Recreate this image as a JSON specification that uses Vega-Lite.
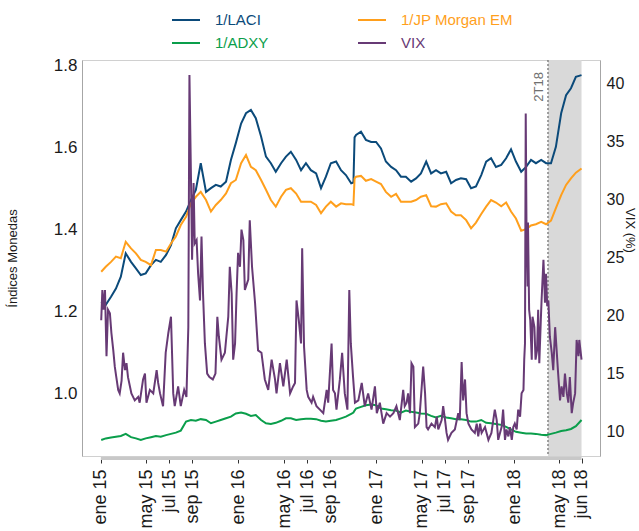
{
"$schema": "https://vega.github.io/schema/vega-lite/v6.json",
"width": 518, "height": 396,
"autosize": {"type": "none"},
"padding": {"left": 82, "top": 60, "right": 39, "bottom": 75},
"config": {
  "font": "Liberation Sans",
  "view": {"stroke": "#d0d0d0", "strokeWidth": 1},
  "axis": {"labelFont": "Liberation Sans", "titleFont": "Liberation Sans", "labelColor": "#1a1a1a", "titleColor": "#1a1a1a", "grid": false, "titleFontWeight": "normal"},
  "axisX": {"labelOverlap": false, "labelAngle": 270, "labelFontSize": 18, "labelPadding": 6, "domain": false, "ticks": true, "tickColor": "#333333", "tickSize": 5, "offset": 2, "title": null, "labelBound": false, "labelSeparation": 0},
  "axisTemporal": {"labelOverlap": false},
  "legend": {"labelFont": "Liberation Sans"}
},
"datasets": {
"fx": [
{"d":"2015-01-02","1/LACI":1.224,"1/JP Morgan EM":1.297,"1/ADXY":0.886},
{"d":"2015-01-14","1/LACI":1.216,"1/JP Morgan EM":1.309,"1/ADXY":0.890},
{"d":"2015-01-28","1/LACI":1.236,"1/JP Morgan EM":1.321,"1/ADXY":0.892},
{"d":"2015-02-10","1/LACI":1.256,"1/JP Morgan EM":1.334,"1/ADXY":0.894},
{"d":"2015-02-23","1/LACI":1.285,"1/JP Morgan EM":1.330,"1/ADXY":0.896},
{"d":"2015-03-08","1/LACI":1.342,"1/JP Morgan EM":1.370,"1/ADXY":0.901},
{"d":"2015-03-22","1/LACI":1.321,"1/JP Morgan EM":1.354,"1/ADXY":0.893},
{"d":"2015-04-04","1/LACI":1.305,"1/JP Morgan EM":1.342,"1/ADXY":0.890},
{"d":"2015-04-17","1/LACI":1.289,"1/JP Morgan EM":1.326,"1/ADXY":0.886},
{"d":"2015-04-30","1/LACI":1.293,"1/JP Morgan EM":1.321,"1/ADXY":0.890},
{"d":"2015-05-14","1/LACI":1.313,"1/JP Morgan EM":1.313,"1/ADXY":0.893},
{"d":"2015-05-27","1/LACI":1.326,"1/JP Morgan EM":1.350,"1/ADXY":0.896},
{"d":"2015-06-09","1/LACI":1.321,"1/JP Morgan EM":1.350,"1/ADXY":0.894},
{"d":"2015-06-23","1/LACI":1.338,"1/JP Morgan EM":1.346,"1/ADXY":0.898},
{"d":"2015-07-06","1/LACI":1.362,"1/JP Morgan EM":1.366,"1/ADXY":0.901},
{"d":"2015-07-19","1/LACI":1.403,"1/JP Morgan EM":1.383,"1/ADXY":0.904},
{"d":"2015-08-01","1/LACI":1.423,"1/JP Morgan EM":1.411,"1/ADXY":0.909},
{"d":"2015-08-15","1/LACI":1.444,"1/JP Morgan EM":1.431,"1/ADXY":0.931},
{"d":"2015-08-28","1/LACI":1.472,"1/JP Morgan EM":1.464,"1/ADXY":0.935},
{"d":"2015-09-10","1/LACI":1.497,"1/JP Morgan EM":1.480,"1/ADXY":0.933},
{"d":"2015-09-23","1/LACI":1.562,"1/JP Morgan EM":1.492,"1/ADXY":0.937},
{"d":"2015-10-07","1/LACI":1.492,"1/JP Morgan EM":1.472,"1/ADXY":0.935},
{"d":"2015-10-20","1/LACI":1.501,"1/JP Morgan EM":1.444,"1/ADXY":0.927},
{"d":"2015-11-02","1/LACI":1.509,"1/JP Morgan EM":1.460,"1/ADXY":0.931},
{"d":"2015-11-15","1/LACI":1.505,"1/JP Morgan EM":1.472,"1/ADXY":0.935},
{"d":"2015-11-29","1/LACI":1.517,"1/JP Morgan EM":1.488,"1/ADXY":0.939},
{"d":"2015-12-12","1/LACI":1.570,"1/JP Morgan EM":1.513,"1/ADXY":0.943},
{"d":"2015-12-25","1/LACI":1.611,"1/JP Morgan EM":1.521,"1/ADXY":0.951},
{"d":"2016-01-08","1/LACI":1.659,"1/JP Morgan EM":1.562,"1/ADXY":0.953},
{"d":"2016-01-21","1/LACI":1.684,"1/JP Morgan EM":1.582,"1/ADXY":0.950},
{"d":"2016-02-03","1/LACI":1.692,"1/JP Morgan EM":1.553,"1/ADXY":0.945},
{"d":"2016-02-16","1/LACI":1.672,"1/JP Morgan EM":1.545,"1/ADXY":0.947},
{"d":"2016-03-01","1/LACI":1.627,"1/JP Morgan EM":1.521,"1/ADXY":0.935},
{"d":"2016-03-14","1/LACI":1.578,"1/JP Morgan EM":1.497,"1/ADXY":0.927},
{"d":"2016-03-27","1/LACI":1.562,"1/JP Morgan EM":1.472,"1/ADXY":0.925},
{"d":"2016-04-09","1/LACI":1.541,"1/JP Morgan EM":1.456,"1/ADXY":0.928},
{"d":"2016-04-23","1/LACI":1.562,"1/JP Morgan EM":1.480,"1/ADXY":0.933},
{"d":"2016-05-06","1/LACI":1.578,"1/JP Morgan EM":1.497,"1/ADXY":0.939},
{"d":"2016-05-19","1/LACI":1.590,"1/JP Morgan EM":1.501,"1/ADXY":0.939},
{"d":"2016-06-02","1/LACI":1.570,"1/JP Morgan EM":1.488,"1/ADXY":0.935},
{"d":"2016-06-15","1/LACI":1.545,"1/JP Morgan EM":1.468,"1/ADXY":0.937},
{"d":"2016-06-28","1/LACI":1.562,"1/JP Morgan EM":1.468,"1/ADXY":0.938},
{"d":"2016-07-11","1/LACI":1.545,"1/JP Morgan EM":1.468,"1/ADXY":0.938},
{"d":"2016-07-25","1/LACI":1.537,"1/JP Morgan EM":1.460,"1/ADXY":0.937},
{"d":"2016-08-07","1/LACI":1.501,"1/JP Morgan EM":1.440,"1/ADXY":0.933},
{"d":"2016-08-20","1/LACI":1.529,"1/JP Morgan EM":1.456,"1/ADXY":0.931},
{"d":"2016-09-02","1/LACI":1.562,"1/JP Morgan EM":1.468,"1/ADXY":0.933},
{"d":"2016-09-16","1/LACI":1.566,"1/JP Morgan EM":1.456,"1/ADXY":0.935},
{"d":"2016-09-29","1/LACI":1.545,"1/JP Morgan EM":1.464,"1/ADXY":0.939},
{"d":"2016-10-12","1/LACI":1.533,"1/JP Morgan EM":1.462,"1/ADXY":0.943},
{"d":"2016-10-26","1/LACI":1.513,"1/JP Morgan EM":1.462,"1/ADXY":0.950},
{"d":"2016-11-01","1/LACI":1.515,"1/JP Morgan EM":1.460,"1/ADXY":0.953},
{"d":"2016-11-04","1/LACI":1.625,"1/JP Morgan EM":1.525,"1/ADXY":0.958},
{"d":"2016-11-08","1/LACI":1.631,"1/JP Morgan EM":1.529,"1/ADXY":0.963},
{"d":"2016-11-21","1/LACI":1.639,"1/JP Morgan EM":1.531,"1/ADXY":0.967},
{"d":"2016-12-04","1/LACI":1.619,"1/JP Morgan EM":1.519,"1/ADXY":0.971},
{"d":"2016-12-18","1/LACI":1.614,"1/JP Morgan EM":1.523,"1/ADXY":0.973},
{"d":"2016-12-31","1/LACI":1.614,"1/JP Morgan EM":1.517,"1/ADXY":0.971},
{"d":"2017-01-13","1/LACI":1.598,"1/JP Morgan EM":1.511,"1/ADXY":0.963},
{"d":"2017-01-26","1/LACI":1.566,"1/JP Morgan EM":1.492,"1/ADXY":0.961},
{"d":"2017-02-09","1/LACI":1.553,"1/JP Morgan EM":1.480,"1/ADXY":0.959},
{"d":"2017-02-22","1/LACI":1.545,"1/JP Morgan EM":1.487,"1/ADXY":0.958},
{"d":"2017-03-07","1/LACI":1.529,"1/JP Morgan EM":1.468,"1/ADXY":0.953},
{"d":"2017-03-20","1/LACI":1.529,"1/JP Morgan EM":1.468,"1/ADXY":0.958},
{"d":"2017-04-03","1/LACI":1.517,"1/JP Morgan EM":1.468,"1/ADXY":0.955},
{"d":"2017-04-16","1/LACI":1.525,"1/JP Morgan EM":1.472,"1/ADXY":0.953},
{"d":"2017-04-29","1/LACI":1.537,"1/JP Morgan EM":1.480,"1/ADXY":0.951},
{"d":"2017-05-13","1/LACI":1.566,"1/JP Morgan EM":1.484,"1/ADXY":0.950},
{"d":"2017-05-26","1/LACI":1.537,"1/JP Morgan EM":1.457,"1/ADXY":0.945},
{"d":"2017-06-08","1/LACI":1.545,"1/JP Morgan EM":1.456,"1/ADXY":0.941},
{"d":"2017-06-21","1/LACI":1.537,"1/JP Morgan EM":1.462,"1/ADXY":0.945},
{"d":"2017-07-05","1/LACI":1.541,"1/JP Morgan EM":1.464,"1/ADXY":0.941},
{"d":"2017-07-18","1/LACI":1.513,"1/JP Morgan EM":1.444,"1/ADXY":0.939},
{"d":"2017-07-31","1/LACI":1.521,"1/JP Morgan EM":1.435,"1/ADXY":0.937},
{"d":"2017-08-13","1/LACI":1.525,"1/JP Morgan EM":1.435,"1/ADXY":0.937},
{"d":"2017-08-27","1/LACI":1.523,"1/JP Morgan EM":1.423,"1/ADXY":0.935},
{"d":"2017-09-09","1/LACI":1.501,"1/JP Morgan EM":1.403,"1/ADXY":0.931},
{"d":"2017-09-22","1/LACI":1.505,"1/JP Morgan EM":1.417,"1/ADXY":0.931},
{"d":"2017-10-06","1/LACI":1.533,"1/JP Morgan EM":1.438,"1/ADXY":0.935},
{"d":"2017-10-19","1/LACI":1.566,"1/JP Morgan EM":1.456,"1/ADXY":0.928},
{"d":"2017-11-01","1/LACI":1.574,"1/JP Morgan EM":1.472,"1/ADXY":0.927},
{"d":"2017-11-14","1/LACI":1.553,"1/JP Morgan EM":1.466,"1/ADXY":0.925},
{"d":"2017-11-28","1/LACI":1.558,"1/JP Morgan EM":1.457,"1/ADXY":0.923},
{"d":"2017-12-11","1/LACI":1.574,"1/JP Morgan EM":1.466,"1/ADXY":0.918},
{"d":"2017-12-24","1/LACI":1.596,"1/JP Morgan EM":1.444,"1/ADXY":0.912},
{"d":"2018-01-06","1/LACI":1.566,"1/JP Morgan EM":1.427,"1/ADXY":0.906},
{"d":"2018-01-20","1/LACI":1.541,"1/JP Morgan EM":1.397,"1/ADXY":0.904},
{"d":"2018-02-02","1/LACI":1.553,"1/JP Morgan EM":1.401,"1/ADXY":0.902},
{"d":"2018-02-15","1/LACI":1.570,"1/JP Morgan EM":1.410,"1/ADXY":0.902},
{"d":"2018-02-28","1/LACI":1.562,"1/JP Morgan EM":1.413,"1/ADXY":0.901},
{"d":"2018-03-14","1/LACI":1.570,"1/JP Morgan EM":1.419,"1/ADXY":0.899},
{"d":"2018-03-27","1/LACI":1.562,"1/JP Morgan EM":1.413,"1/ADXY":0.898},
{"d":"2018-04-09","1/LACI":1.562,"1/JP Morgan EM":1.422,"1/ADXY":0.901},
{"d":"2018-04-22","1/LACI":1.602,"1/JP Morgan EM":1.452,"1/ADXY":0.904},
{"d":"2018-05-06","1/LACI":1.684,"1/JP Morgan EM":1.484,"1/ADXY":0.908},
{"d":"2018-05-19","1/LACI":1.728,"1/JP Morgan EM":1.509,"1/ADXY":0.910},
{"d":"2018-06-01","1/LACI":1.745,"1/JP Morgan EM":1.525,"1/ADXY":0.913},
{"d":"2018-06-14","1/LACI":1.773,"1/JP Morgan EM":1.539,"1/ADXY":0.920},
{"d":"2018-06-29","1/LACI":1.777,"1/JP Morgan EM":1.549,"1/ADXY":0.935}
],
"vix": [
{"d":"2015-01-02","v":19.6},{"d":"2015-01-05","v":22.2},{"d":"2015-01-08","v":20.5},{"d":"2015-01-12","v":22.2},{"d":"2015-01-16","v":16.5},{"d":"2015-01-20","v":20.5},{"d":"2015-01-25","v":20.2},{"d":"2015-01-29","v":18.5},
{"d":"2015-02-03","v":17.0},{"d":"2015-02-07","v":15.6},{"d":"2015-02-11","v":14.7},{"d":"2015-02-16","v":13.6},{"d":"2015-02-20","v":13.3},{"d":"2015-02-25","v":14.4},
{"d":"2015-03-01","v":16.8},{"d":"2015-03-06","v":15.3},{"d":"2015-03-10","v":15.9},{"d":"2015-03-14","v":14.7},{"d":"2015-03-23","v":13.3},
{"d":"2015-04-01","v":12.7},{"d":"2015-04-10","v":13.0},{"d":"2015-04-14","v":12.5},{"d":"2015-04-23","v":14.5},{"d":"2015-04-28","v":15.0},
{"d":"2015-05-02","v":12.5},{"d":"2015-05-11","v":13.6},{"d":"2015-05-20","v":13.3},{"d":"2015-05-29","v":15.3},
{"d":"2015-06-02","v":14.2},{"d":"2015-06-07","v":13.3},{"d":"2015-06-15","v":12.2},{"d":"2015-06-22","v":16.8},{"d":"2015-06-29","v":18.5},
{"d":"2015-07-06","v":19.9},{"d":"2015-07-12","v":13.3},{"d":"2015-07-16","v":12.2},{"d":"2015-07-25","v":13.9},
{"d":"2015-08-01","v":12.2},{"d":"2015-08-10","v":13.6},{"d":"2015-08-16","v":13.0},{"d":"2015-08-21","v":19.0},{"d":"2015-08-24","v":40.7},{"d":"2015-08-28","v":32.0},{"d":"2015-08-31","v":24.8},
{"d":"2015-09-04","v":31.4},{"d":"2015-09-07","v":26.2},{"d":"2015-09-12","v":26.5},{"d":"2015-09-16","v":23.6},{"d":"2015-09-21","v":21.3},{"d":"2015-09-25","v":26.8},{"d":"2015-09-29","v":21.9},
{"d":"2015-10-04","v":17.6},{"d":"2015-10-10","v":15.0},{"d":"2015-10-16","v":14.7},{"d":"2015-10-25","v":14.5},
{"d":"2015-11-01","v":15.0},{"d":"2015-11-06","v":19.9},{"d":"2015-11-10","v":18.2},{"d":"2015-11-17","v":16.2},{"d":"2015-11-26","v":16.8},{"d":"2015-11-30","v":18.2},
{"d":"2015-12-05","v":19.9},{"d":"2015-12-09","v":24.2},{"d":"2015-12-14","v":21.9},{"d":"2015-12-18","v":16.2},{"d":"2015-12-23","v":17.6},{"d":"2015-12-27","v":21.9},{"d":"2015-12-31","v":25.4},
{"d":"2016-01-05","v":24.2},{"d":"2016-01-09","v":27.4},{"d":"2016-01-14","v":26.5},{"d":"2016-01-18","v":22.2},{"d":"2016-01-27","v":23.1},{"d":"2016-01-31","v":28.2},
{"d":"2016-02-06","v":24.2},{"d":"2016-02-14","v":21.1},{"d":"2016-02-22","v":17.0},
{"d":"2016-03-02","v":16.8},{"d":"2016-03-11","v":14.5},{"d":"2016-03-20","v":13.6},{"d":"2016-03-29","v":16.2},
{"d":"2016-04-07","v":14.5},{"d":"2016-04-11","v":13.3},{"d":"2016-04-20","v":15.9},{"d":"2016-04-29","v":13.9},
{"d":"2016-05-08","v":16.2},{"d":"2016-05-17","v":13.3},{"d":"2016-05-25","v":13.9},{"d":"2016-05-30","v":14.2},
{"d":"2016-06-03","v":21.3},{"d":"2016-06-09","v":19.6},{"d":"2016-06-15","v":17.6},{"d":"2016-06-18","v":25.8},{"d":"2016-06-23","v":17.3},{"d":"2016-06-30","v":13.6},
{"d":"2016-07-04","v":13.0},{"d":"2016-07-13","v":12.5},{"d":"2016-07-17","v":13.0},{"d":"2016-07-26","v":12.2},
{"d":"2016-08-04","v":11.9},{"d":"2016-08-13","v":11.6},{"d":"2016-08-22","v":13.6},{"d":"2016-08-26","v":12.5},
{"d":"2016-09-04","v":17.6},{"d":"2016-09-08","v":13.6},{"d":"2016-09-13","v":13.3},{"d":"2016-09-17","v":11.9},{"d":"2016-09-26","v":14.5},
{"d":"2016-10-02","v":16.8},{"d":"2016-10-09","v":13.3},{"d":"2016-10-16","v":11.9},{"d":"2016-10-21","v":22.2},{"d":"2016-10-25","v":17.6},{"d":"2016-10-31","v":14.7},
{"d":"2016-11-05","v":12.5},{"d":"2016-11-14","v":12.7},{"d":"2016-11-23","v":14.2},
{"d":"2016-12-01","v":12.2},{"d":"2016-12-10","v":13.3},{"d":"2016-12-19","v":11.9},{"d":"2016-12-28","v":13.9},
{"d":"2017-01-02","v":11.6},{"d":"2017-01-10","v":12.5},{"d":"2017-01-19","v":10.7},{"d":"2017-01-28","v":11.6},
{"d":"2017-02-06","v":11.3},{"d":"2017-02-15","v":11.6},{"d":"2017-02-23","v":12.2},
{"d":"2017-03-04","v":11.0},{"d":"2017-03-13","v":13.6},{"d":"2017-03-17","v":12.2},{"d":"2017-03-22","v":12.5},{"d":"2017-03-26","v":13.3},{"d":"2017-03-31","v":11.6},
{"d":"2017-04-04","v":15.9},{"d":"2017-04-09","v":15.6},{"d":"2017-04-13","v":10.4},{"d":"2017-04-22","v":10.7},{"d":"2017-04-26","v":11.6},
{"d":"2017-05-05","v":15.6},{"d":"2017-05-10","v":13.3},{"d":"2017-05-14","v":10.4},{"d":"2017-05-18","v":10.2},{"d":"2017-05-27","v":10.7},
{"d":"2017-06-05","v":10.4},{"d":"2017-06-10","v":11.3},{"d":"2017-06-14","v":10.2},{"d":"2017-06-23","v":11.0},{"d":"2017-06-27","v":12.2},
{"d":"2017-07-02","v":11.0},{"d":"2017-07-06","v":9.9},{"d":"2017-07-10","v":9.3},{"d":"2017-07-19","v":9.9},{"d":"2017-07-28","v":10.2},
{"d":"2017-08-06","v":11.6},{"d":"2017-08-10","v":11.0},{"d":"2017-08-15","v":16.0},{"d":"2017-08-19","v":12.7},{"d":"2017-08-24","v":14.5},{"d":"2017-08-28","v":11.6},
{"d":"2017-09-02","v":10.7},{"d":"2017-09-10","v":10.2},{"d":"2017-09-19","v":9.9},{"d":"2017-09-24","v":10.7},{"d":"2017-09-28","v":9.6},
{"d":"2017-10-03","v":10.7},{"d":"2017-10-07","v":9.9},{"d":"2017-10-16","v":10.4},{"d":"2017-10-25","v":9.3},
{"d":"2017-11-02","v":9.9},{"d":"2017-11-11","v":11.9},{"d":"2017-11-16","v":11.0},{"d":"2017-11-20","v":9.3},{"d":"2017-11-29","v":10.4},
{"d":"2017-12-03","v":11.9},{"d":"2017-12-08","v":9.3},{"d":"2017-12-12","v":10.2},{"d":"2017-12-17","v":9.6},{"d":"2017-12-21","v":10.4},{"d":"2017-12-26","v":9.3},{"d":"2017-12-30","v":10.4},
{"d":"2018-01-03","v":10.7},{"d":"2018-01-08","v":10.2},{"d":"2018-01-12","v":11.9},{"d":"2018-01-17","v":11.3},{"d":"2018-01-21","v":13.3},{"d":"2018-01-26","v":13.6},{"d":"2018-01-28","v":16.2},{"d":"2018-01-30","v":17.6},
{"d":"2018-02-01","v":37.4},{"d":"2018-02-03","v":27.7},{"d":"2018-02-06","v":22.5},{"d":"2018-02-07","v":28.0},{"d":"2018-02-10","v":20.5},{"d":"2018-02-13","v":19.6},{"d":"2018-02-17","v":16.2},{"d":"2018-02-19","v":19.9},{"d":"2018-02-24","v":19.0},{"d":"2018-02-27","v":16.2},
{"d":"2018-03-03","v":17.0},{"d":"2018-03-06","v":20.5},{"d":"2018-03-09","v":15.9},{"d":"2018-03-13","v":19.6},{"d":"2018-03-15","v":21.3},{"d":"2018-03-20","v":24.8},{"d":"2018-03-22","v":23.1},{"d":"2018-03-24","v":21.1},{"d":"2018-03-27","v":23.6},{"d":"2018-03-30","v":20.8},
{"d":"2018-04-02","v":21.3},{"d":"2018-04-06","v":18.2},{"d":"2018-04-11","v":16.8},{"d":"2018-04-15","v":15.3},{"d":"2018-04-20","v":19.0},{"d":"2018-04-24","v":17.0},{"d":"2018-04-28","v":15.0},
{"d":"2018-05-03","v":12.7},{"d":"2018-05-07","v":13.9},{"d":"2018-05-12","v":13.0},{"d":"2018-05-16","v":15.0},{"d":"2018-05-21","v":13.3},{"d":"2018-05-25","v":12.5},{"d":"2018-05-29","v":14.7},
{"d":"2018-06-03","v":11.6},{"d":"2018-06-07","v":12.5},{"d":"2018-06-12","v":13.3},{"d":"2018-06-16","v":17.9},{"d":"2018-06-21","v":16.5},{"d":"2018-06-23","v":17.9},{"d":"2018-06-29","v":16.2}
]
},
"layer": [
{
"data": {"values": [{"s": "2018-04-01", "e": "2018-06-29"}]},
"mark": {"type": "rect", "color": "#d9d9d9"},
"encoding": {
  "x": {"field": "s", "type": "temporal",
    "scale": {"domain": [1415750400000, 1534464000000]},
    "axis": {"title": null, "labelOverlap": false, "labelSeparation": 0, "tickCount": 20,
      "values": [1420070400000, 1430438400000, 1435708800000, 1441065600000, 1451606400000, 1462060800000, 1467331200000, 1472688000000, 1483228800000, 1493596800000, 1498867200000, 1504224000000, 1514764800000, 1525132800000, 1530230400000],
      "labelExpr": "['ene','feb','mar','abr','may','jun','jul','ago','sep','oct','nov','dic'][utcmonth(datum.value)] + ' ' + utcFormat(datum.value, '%y')"}},
  "x2": {"field": "e"}
}
},
{
"data": {"values": [{"s": "2018-04-01"}]},
"mark": {"type": "rule", "color": "#6b6b6b", "strokeDash": [2, 2], "strokeWidth": 1.2},
"encoding": {
  "x": {"field": "s", "type": "temporal"}
}
},
{
"data": {"values": [{"s": "2018-04-01", "t": "2T18", "y": 1.814}]},
"mark": {"type": "text", "angle": 270, "align": "right", "baseline": "bottom", "dx": -12, "dy": -2, "fontSize": 13, "color": "#707070", "font": "Liberation Sans"},
"encoding": {
  "x": {"field": "s", "type": "temporal"},
  "y": {"field": "y", "type": "quantitative", "axis": null, "scale": {"domain": [0.847, 1.814], "nice": false, "zero": false}},
  "text": {"field": "t"}
}
},
{
"data": {"values": [{"s": "2015-01-01", "e": "2018-06-29", "y": 0.847}]},
"mark": {"type": "rule", "color": "#c8c8c8", "strokeWidth": 3, "yOffset": 2.5},
"encoding": {
  "x": {"field": "s", "type": "temporal"},
  "x2": {"field": "e"},
  "y": {"field": "y", "type": "quantitative", "axis": null, "scale": {"domain": [0.847, 1.814], "nice": false, "zero": false}}
}
},
{
"data": {"name": "fx"},
"transform": [{"fold": ["1/LACI", "1/JP Morgan EM", "1/ADXY"], "as": ["serie", "valor"]}],
"mark": {"type": "line", "strokeWidth": 2},
"encoding": {
  "x": {"field": "d", "type": "temporal"},
  "y": {"field": "valor", "type": "quantitative",
    "scale": {"domain": [0.847, 1.814], "nice": false, "zero": false},
    "axis": {"title": "Índices Monedas", "titleFontSize": 13, "titleX": -70, "titleBaseline": "middle", "values": [1.0, 1.2, 1.4, 1.6, 1.8], "format": ".1f", "ticks": false, "domainColor": "#a6a6a6", "labelFontSize": 17, "labelPadding": 5}},
  "color": {"field": "serie", "type": "nominal",
    "scale": {"domain": ["1/LACI", "1/JP Morgan EM", "1/ADXY", "VIX"], "range": ["#0b4a7a", "#ff9f1c", "#0a9e4b", "#673a75"]},
    "legend": {"title": null, "orient": "none", "legendX": 89, "legendY": -55, "columns": 2, "direction": "horizontal", "symbolType": "stroke", "symbolStrokeWidth": 2, "symbolSize": 784, "labelFontSize": 15, "labelOffset": 14, "columnPadding": 85, "rowPadding": -5, "padding": 0, "labelLimit": 300,
      "labelColor": {"expr": "scale('color', datum.value)"}}}
}
},
{
"data": {"name": "vix"},
"mark": {"type": "line", "strokeWidth": 2},
"encoding": {
  "x": {"field": "d", "type": "temporal"},
  "y": {"field": "v", "type": "quantitative",
    "scale": {"domain": [7.91, 42.0], "nice": false, "zero": false},
    "axis": {"orient": "right", "title": "VIX (%)", "titleFontSize": 13, "titleX": 29, "titleY": 170, "titleBaseline": "middle", "values": [10, 15, 20, 25, 30, 35, 40], "ticks": false, "domainColor": "#a6a6a6", "labelFontSize": 16, "labelPadding": 6}},
  "color": {"datum": "VIX"}
}
}
],
"resolve": {"scale": {"y": "independent"}}
}
